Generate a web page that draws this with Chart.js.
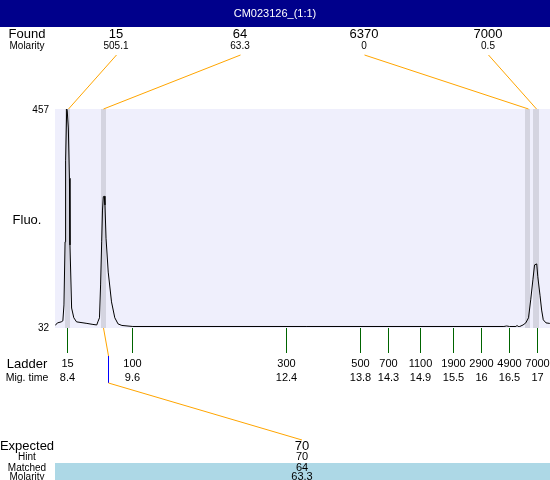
<!DOCTYPE html>
<html>
<head>
<meta charset="utf-8">
<script src="https://cdn.jsdelivr.net/npm/chart.js@4/dist/chart.umd.min.js"></script>
<style>
  html, body { margin: 0; padding: 0; background: #fff; }
  #wrap { width: 550px; height: 480px; }
</style>
</head>
<body>
<div id="wrap"><canvas id="c" width="550" height="480"></canvas></div>
<script>
// ---------------- data ----------------
const chartTitle = 'CM023126_(1:1)';
const ladderSizes = ['15', '100', '300', '500', '700', '1100', '1900', '2900', '4900', '7000'];
const ladderTimes = [8.40, 9.59, 12.41, 13.77, 14.27, 14.87, 15.47, 15.98, 16.50, 17.00];
const migTimeLabels = ['8.4', '9.6', '12.4', '13.8', '14.3', '14.9', '15.5', '16', '16.5', '17'];
const foundSizes = ['15', '64', '6370', '7000'];
const foundMolarity = ['505.1', '63.3', '0', '0.5'];
const foundTimes = [8.415, 9.073, 16.832, 16.987];
const expectedSizes = ['70'];
const hintSizes = ['70'];
const matchedSizes = ['64'];
const matchedMolarity = ['63.3'];
const expectedTimes = [9.15];
const matchedFoundIndex = [1];
const yTickValues = [32, 457];
const traceTimes = [8.19, 8.23, 8.30, 8.33, 8.35, 8.37, 8.38, 8.40, 8.41, 8.43, 8.45, 8.46, 8.49, 8.53,
  8.58, 8.77, 8.88, 8.95, 8.97, 9.00, 9.02, 9.04, 9.055, 9.07, 9.088, 9.10, 9.12, 9.16, 9.22, 9.28,
  9.34, 9.41, 9.61, 12.78, 16.40, 16.45, 16.50, 16.62, 16.64, 16.66, 16.69, 16.75, 16.80, 16.85,
  16.89, 16.93, 16.96, 17.00, 17.02, 17.06, 17.09, 17.12, 17.17, 17.24];
const traceFluo = [35, 40, 42, 44, 75, 198, 356, 457, 453, 420, 322, 192, 69, 50,
  42, 39, 37, 36, 42, 50, 114, 198, 260, 286, 287, 270, 205, 139, 81, 50,
  38, 35, 33, 33, 33, 34, 33, 33, 35, 33, 33, 36, 40, 50,
  85, 124, 153, 155, 130, 94, 65, 46, 40, 39];

// ---------------- styles / layout ----------------
const FONT = '"Liberation Sans", Arial, sans-serif';
const X_MIN = 8.186, X_MAX = 17.243;

function txt(ctx, s, x, y, size, color, align) {
  ctx.font = size + 'px ' + FONT;
  ctx.fillStyle = color || '#000';
  ctx.textAlign = align || 'center';
  ctx.textBaseline = 'middle';
  ctx.fillText(s, x, y);
}
function line(ctx, x1, y1, x2, y2, color) {
  ctx.strokeStyle = color;
  ctx.lineWidth = 1;
  ctx.beginPath();
  ctx.moveTo(x1, y1);
  ctx.lineTo(x2, y2);
  ctx.stroke();
}

const decor = {
  id: 'decor',
  beforeDraw(chart) {
    const ctx = chart.ctx, a = chart.chartArea, xs = chart.scales.x;
    ctx.save();
    ctx.fillStyle = '#ffffff';
    ctx.fillRect(0, 0, chart.width, chart.height);
    // header
    ctx.fillStyle = '#00008B';
    ctx.fillRect(0, 0, chart.width, 27);
    // plot background
    ctx.fillStyle = '#EFEFFC';
    ctx.fillRect(a.left, a.top, a.right - a.left, a.bottom - a.top + 1);
    // found bands
    ctx.fillStyle = '#D4D4E0';
    foundTimes.forEach(t => {
      const x1 = xs.getPixelForValue(t - 0.05), x2 = xs.getPixelForValue(t + 0.05);
      ctx.fillRect(Math.round(x1), a.top, Math.round(x2) - Math.round(x1), a.bottom - a.top + 1);
    });
    ctx.restore();
  },
  afterDraw(chart) {
    const ctx = chart.ctx, a = chart.chartArea, xs = chart.scales.x, ys = chart.scales.y;
    const W = chart.width, labX = 27;
    ctx.save();
    // title
    txt(ctx, chartTitle, W / 2, 14, 11, '#ffffff');
    // top rows
    txt(ctx, 'Found', labX, 34, 13);
    txt(ctx, 'Molarity', labX, 46, 10);
    foundSizes.forEach((s, i) => {
      const lx = 116 + 124 * i;
      txt(ctx, s, lx, 34, 13);
      txt(ctx, foundMolarity[i], lx, 46, 10);
      line(ctx, lx + 0.5, 55, Math.round(xs.getPixelForValue(foundTimes[i])) + 0.5, a.top, '#FFA500');
    });
    // y labels
    yTickValues.forEach(v => {
      txt(ctx, String(v), 49, ys.getPixelForValue(v) + 1.5, 10, '#000', 'right');
    });
    txt(ctx, 'Fluo.', labX, 220, 13);
    // ladder ticks
    ladderTimes.forEach((t, i) => {
      const x = Math.round(xs.getPixelForValue(t)) + 0.5;
      line(ctx, x, a.bottom + 1, x, 353, '#006400');
      txt(ctx, ladderSizes[i], x, 364, 11);
      txt(ctx, migTimeLabels[i], x, 378, 11);
    });
    txt(ctx, 'Ladder', labX, 364, 13);
    txt(ctx, 'Mig. time', labX, 378, 10.5);
    // expected / matched rows
    ctx.fillStyle = '#ADD8E6';
    ctx.fillRect(55, 463, W - 55, chart.height - 463);
    txt(ctx, 'Expected', labX, 446, 13);
    txt(ctx, 'Hint', labX, 457, 10);
    txt(ctx, 'Matched', labX, 468, 10);
    txt(ctx, 'Molarity', labX, 477, 10);
    expectedSizes.forEach((s, i) => {
      const ex = 302;
      const bx = Math.round(xs.getPixelForValue(foundTimes[matchedFoundIndex[i]])) + 0.5;
      const tx = Math.round(xs.getPixelForValue(expectedTimes[i])) + 0.5;
      line(ctx, bx, a.bottom + 1, tx, 356, '#FFA500');
      line(ctx, tx, 356, tx, 383, '#0000FF');
      line(ctx, tx, 383, ex, 440, '#FFA500');
      txt(ctx, s, ex, 446, 13);
      txt(ctx, hintSizes[i], ex, 457, 11);
      txt(ctx, matchedSizes[i], ex, 468, 11);
      txt(ctx, matchedMolarity[i], ex, 477, 11);
    });
    ctx.restore();
  }
};

new Chart(document.getElementById('c'), {
  type: 'line',
  data: {
    datasets: [{
      data: traceTimes.map((t, i) => ({ x: t, y: traceFluo[i] })),
      borderColor: '#000000',
      borderWidth: 1,
      pointRadius: 0,
      tension: 0,
      fill: false
    }]
  },
  options: {
    responsive: false,
    animation: false,
    devicePixelRatio: 1,
    layout: { padding: { left: 55, right: 0, top: 109, bottom: 153 } },
    plugins: { legend: { display: false }, tooltip: { enabled: false } },
    scales: {
      x: { type: 'linear', min: X_MIN, max: X_MAX, display: false },
      y: { type: 'linear', min: 32, max: 457, display: false }
    }
  },
  plugins: [decor]
});
</script>
</body>
</html>
